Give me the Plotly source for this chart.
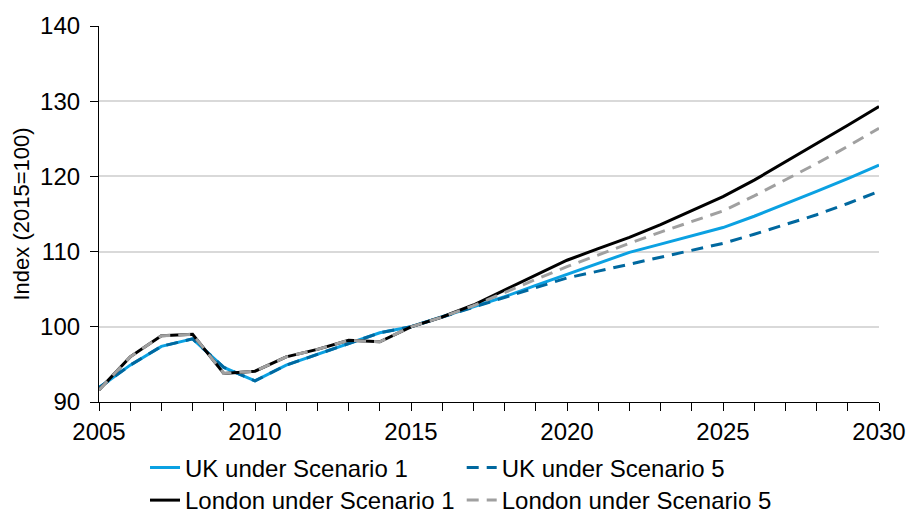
import plotly.graph_objects as go

years = list(range(2005, 2031))

uk_s1 = [91.9, 94.9, 97.4, 98.4, 94.6, 92.8, 94.9, 96.3, 97.8, 99.2, 100.0,
         101.3, 102.7, 104.0, 105.5, 107.0, 108.5, 109.9, 111.0, 112.1, 113.2,
         114.7, 116.3, 118.0, 119.7, 121.5]
uk_s5 = [91.9, 94.9, 97.4, 98.4, 94.6, 92.8, 94.9, 96.3, 97.8, 99.2, 100.0,
         101.3, 102.7, 104.0, 105.2, 106.5, 107.4, 108.3, 109.3, 110.2, 111.1,
         112.3, 113.6, 114.9, 116.4, 118.0]
london_s1 = [91.6, 96.0, 98.8, 99.0, 93.8, 94.1, 96.0, 97.0, 98.2, 98.0, 100.0,
             101.3, 102.9, 104.9, 106.9, 108.85, 110.4, 111.9, 113.6, 115.4, 117.3,
             119.5, 121.9, 124.3, 126.8, 129.3]
london_s5 = [91.6, 96.0, 98.8, 99.0, 93.8, 94.1, 96.0, 97.0, 98.2, 98.0, 100.0,
             101.3, 102.8, 104.6, 106.3, 108.0, 109.6, 111.1, 112.6, 114.0, 115.4,
             117.4, 119.5, 121.7, 124.0, 126.4]

names = ["UK under Scenario 1", "UK under Scenario 5",
         "London under Scenario 1", "London under Scenario 5"]
colors = ["#0BA1E2", "#00689F", "#000000", "#A0A0A0"]
dashes = ["solid", "12px,8px", "solid", "12px,8px"]
legends = ["legend", "legend2", "legend3", "legend4"]
series = [uk_s1, uk_s5, london_s1, london_s5]

FONT = "Liberation Sans, Arial, sans-serif"

fig = go.Figure()
for name, vals, col, dsh, lg in zip(names, series, colors, dashes, legends):
    fig.add_trace(go.Scatter(
        x=years, y=vals, name=name, mode="lines",
        line=dict(color=col, width=3, dash=dsh),
        legend=lg,
    ))

leg_common = dict(orientation="h", xanchor="left", yanchor="middle",
                  font=dict(size=24), itemwidth=30,
                  bgcolor="rgba(0,0,0,0)", tracegroupgap=0)

COL1, COL2 = 0.059, 0.465
ROW1, ROW2 = -0.1755, -0.262

fig.update_layout(
    width=906, height=513,
    margin=dict(l=99, r=27, t=26, b=111, autoexpand=False),
    paper_bgcolor="white", plot_bgcolor="white",
    font=dict(family=FONT, size=24, color="#000000"),
    showlegend=True,
    legend=dict(x=COL1, y=ROW1, **leg_common),
    legend2=dict(x=COL2, y=ROW1, **leg_common),
    legend3=dict(x=COL1, y=ROW2, **leg_common),
    legend4=dict(x=COL2, y=ROW2, **leg_common),
)

fig.update_xaxes(
    range=[2005, 2030], tickmode="linear", tick0=2005, dtick=5,
    showline=True, linecolor="black", linewidth=1.2,
    ticks="outside", ticklen=8, tickcolor="black", tickwidth=1,
    minor=dict(dtick=1, ticks="outside", ticklen=8, tickcolor="black", tickwidth=1, showgrid=False),
    showgrid=False, zeroline=False, automargin=False,
    tickfont=dict(size=24), ticklabelstandoff=0,
)
fig.update_yaxes(
    range=[90, 140], tickmode="linear", tick0=90, dtick=10,
    showline=True, linecolor="black", linewidth=1.2,
    ticks="outside", ticklen=8, tickcolor="black", tickwidth=1,
    showgrid=True, gridcolor="#D9D9D9", gridwidth=1.5,
    zeroline=False, automargin=False,
    tickfont=dict(size=24), ticklabelstandoff=5,
    title=dict(text="Index (2015=100)", font=dict(size=22), standoff=4),
)

fig.write_html("out.html", config={"displayModeBar": False},
               post_script="document.body.style.margin='0';")
